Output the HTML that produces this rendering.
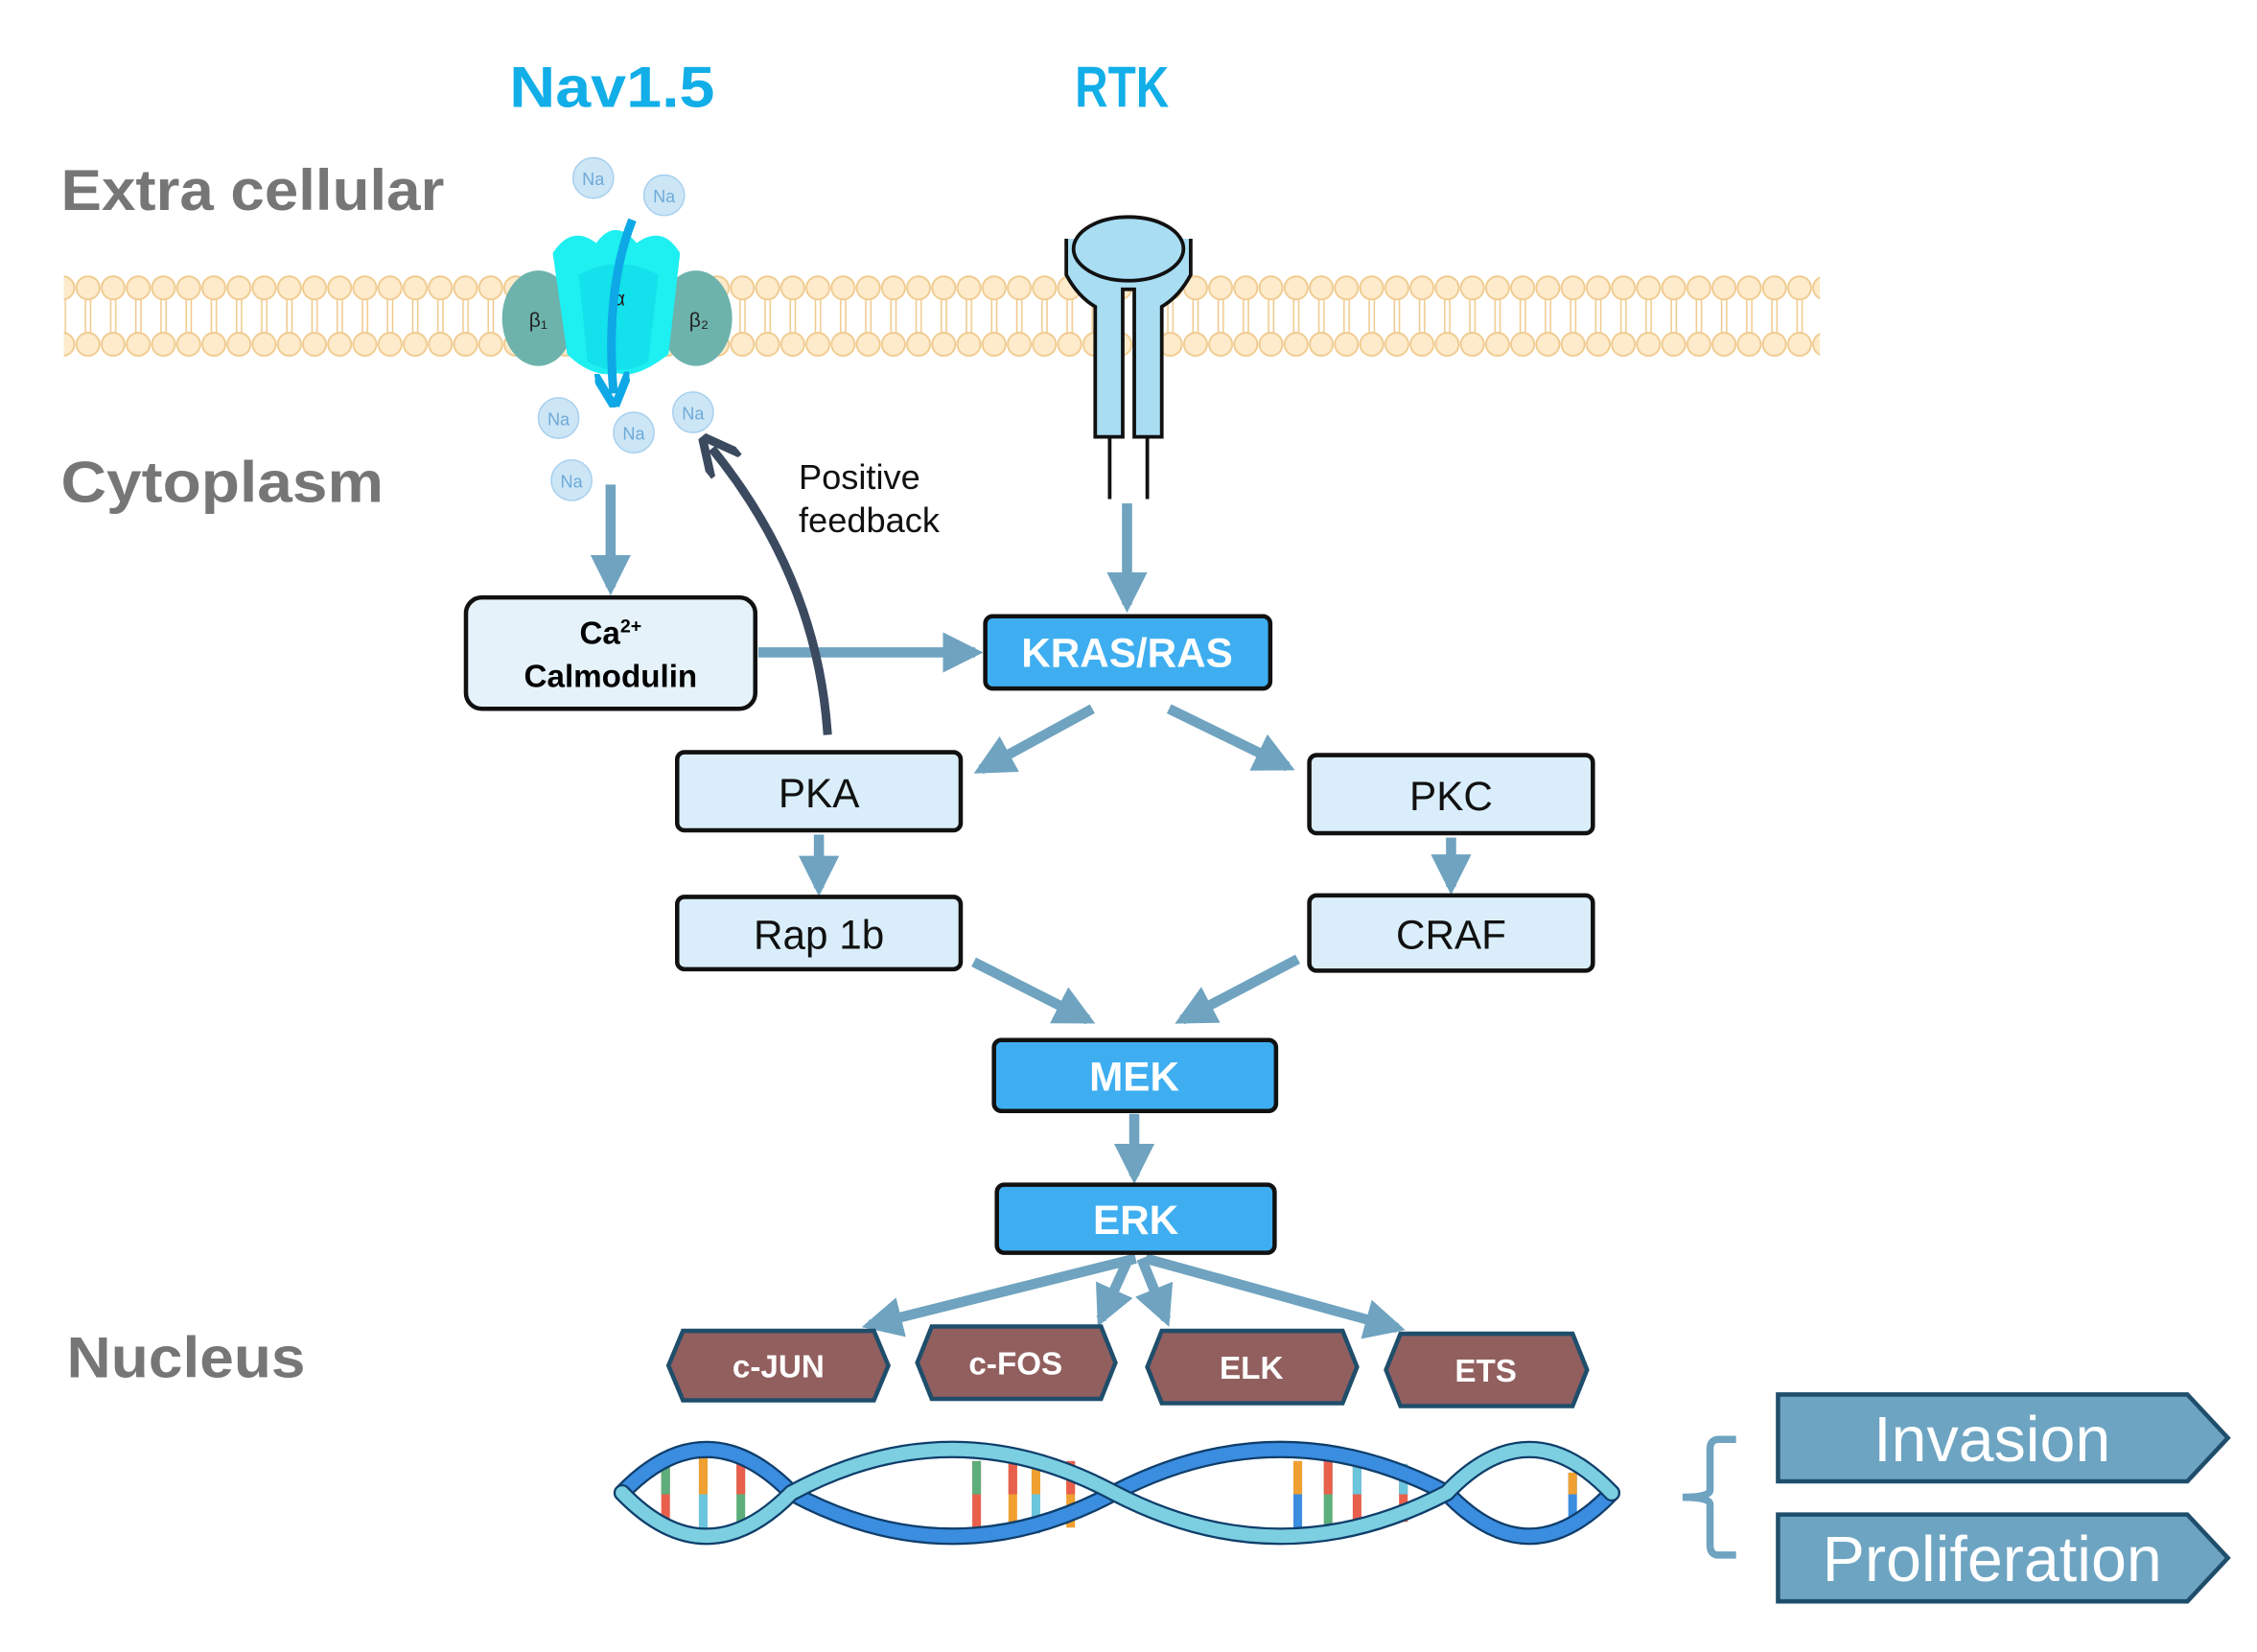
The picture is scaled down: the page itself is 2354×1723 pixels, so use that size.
<!DOCTYPE html>
<html><head><meta charset="utf-8"><style>
html,body{margin:0;padding:0;background:#fff;}
svg{display:block;}
text{font-family:"Liberation Sans",sans-serif;}
</style></head><body>
<svg width="2354" height="1723" viewBox="0 0 1560 1142" xmlns="http://www.w3.org/2000/svg">
<defs>
<marker id="ah" viewBox="0 0 10 10" refX="8" refY="5" markerWidth="4" markerHeight="4" orient="auto"><path d="M0,0L10,5L0,10z" fill="#6FA3C0"/></marker>
<marker id="ahd" viewBox="0 0 10 10" refX="6" refY="5" markerWidth="4.5" markerHeight="4.5" orient="auto"><path d="M0,0L10,5L0,10" fill="none" stroke="#3C4A60" stroke-width="2.2"/></marker>
<marker id="ahb" viewBox="0 0 10 10" refX="6" refY="5" markerWidth="4" markerHeight="4" orient="auto"><path d="M0,0L10,5L0,10" fill="none" stroke="#0EA8E6" stroke-width="2.5"/></marker>
<pattern id="mem" x="52" y="0" width="17.4" height="300" patternUnits="userSpaceOnUse">
<circle cx="8.7" cy="199" r="8" fill="#FDEBCB" stroke="#F0C98C" stroke-width="1.2"/>
<circle cx="8.7" cy="238" r="8" fill="#FDEBCB" stroke="#F0C98C" stroke-width="1.2"/>
<path d="M7,207V230M10.5,207V230" stroke="#F0C98C" stroke-width="1"/>
</pattern>
</defs>

<!-- titles -->
<text x="352" y="74" font-size="40" font-weight="bold" fill="#12AEE8" textLength="142" lengthAdjust="spacingAndGlyphs">Nav1.5</text>
<text x="743" y="74" font-size="40" font-weight="bold" fill="#12AEE8" textLength="65" lengthAdjust="spacingAndGlyphs">RTK</text>
<text x="42" y="145" font-size="40" font-weight="bold" fill="#767676" textLength="265" lengthAdjust="spacingAndGlyphs">Extra cellular</text>
<text x="42" y="347" font-size="40" font-weight="bold" fill="#767676" textLength="223" lengthAdjust="spacingAndGlyphs">Cytoplasm</text>
<text x="46" y="952" font-size="40" font-weight="bold" fill="#767676" textLength="165" lengthAdjust="spacingAndGlyphs">Nucleus</text>

<!-- membrane -->
<rect x="44" y="188" width="1214" height="60" fill="url(#mem)"/>

<!-- Nav channel -->
<ellipse cx="372" cy="220" rx="25" ry="33" fill="#6DB3AC"/>
<ellipse cx="481" cy="220" rx="25" ry="33" fill="#6DB3AC"/>
<path d="M382,175 Q395,155 412,168 Q425,150 440,168 Q458,155 470,175 L462,245 Q440,262 427,258 Q410,262 392,245 Z" fill="#1EEFF0"/>
<path d="M400,190 Q427,175 455,190 L448,250 Q427,262 406,250 Z" fill="#10DDEA" opacity="0.8"/>
<text x="372" y="226" font-size="14" font-family="Liberation Serif" fill="#222" text-anchor="middle">β₁</text>
<text x="483" y="226" font-size="14" font-family="Liberation Serif" fill="#222" text-anchor="middle">β₂</text>
<text x="428" y="211" font-size="14" font-family="Liberation Serif" fill="#222" text-anchor="middle">α</text>
<path d="M437,152 Q418,200 424,272" fill="none" stroke="#0EA8E6" stroke-width="6" marker-end="url(#ahb)"/>

<!-- Na ions -->
<g font-size="12" fill="#6FAAD8" text-anchor="middle">
<circle cx="410" cy="123" r="14" fill="#CCE6F6" stroke="#A8D0EE"/><text x="410" y="128">Na</text>
<circle cx="459" cy="135" r="14" fill="#CCE6F6" stroke="#A8D0EE"/><text x="459" y="140">Na</text>
<circle cx="386" cy="289" r="14" fill="#CCE6F6" stroke="#A8D0EE"/><text x="386" y="294">Na</text>
<circle cx="438" cy="299" r="14" fill="#CCE6F6" stroke="#A8D0EE"/><text x="438" y="304">Na</text>
<circle cx="479" cy="285" r="14" fill="#CCE6F6" stroke="#A8D0EE"/><text x="479" y="290">Na</text>
<circle cx="395" cy="332" r="14" fill="#CCE6F6" stroke="#A8D0EE"/><text x="395" y="337">Na</text>
</g>

<!-- RTK receptor -->
<path d="M737,165 L737,190 Q745,205 757,212 L757,302 L776,302 L776,200 L784,200 L784,302 L803,302 L803,212 Q815,205 823,190 L823,165" fill="#A8DDF2" stroke="#111" stroke-width="2.5"/>
<ellipse cx="780" cy="172" rx="38" ry="22" fill="#A8DDF2" stroke="#111" stroke-width="2.5"/>
<path d="M767,302V345M793,302V345" stroke="#111" stroke-width="2.5"/>

<!-- arrows -->
<g stroke="#6FA3C0" stroke-width="7" fill="none" marker-end="url(#ah)">
<line x1="422" y1="335" x2="422" y2="406"/>
<line x1="779" y1="348" x2="779" y2="418"/>
<line x1="524" y1="451" x2="674" y2="451"/>
<line x1="755" y1="490" x2="678" y2="532"/>
<line x1="808" y1="490" x2="890" y2="530"/>
<line x1="566" y1="577" x2="566" y2="614"/>
<line x1="1003" y1="579" x2="1003" y2="613"/>
<line x1="673" y1="665" x2="752" y2="705"/>
<line x1="897" y1="663" x2="817" y2="705"/>
<line x1="784" y1="770" x2="784" y2="813"/>
<line x1="785" y1="870" x2="601" y2="916"/>
<line x1="780" y1="870" x2="761" y2="912"/>
<line x1="789" y1="870" x2="806" y2="912"/>
<line x1="792" y1="870" x2="966" y2="918"/>
</g>

<!-- positive feedback -->
<path d="M572,508 Q565,400 492,310" fill="none" stroke="#3C4A60" stroke-width="6" marker-end="url(#ahd)"/>
<text x="552" y="338" font-size="24" fill="#111">Positive</text>
<text x="552" y="368" font-size="24" fill="#111">feedback</text>

<!-- boxes -->
<rect x="322" y="413" width="200" height="77" rx="11" fill="#E6F2FA" stroke="#111" stroke-width="3"/>
<text x="422" y="445" font-size="22" font-weight="bold" text-anchor="middle">Ca<tspan font-size="13" dy="-8">2+</tspan></text>
<text x="422" y="475" font-size="22" font-weight="bold" text-anchor="middle">Calmodulin</text>

<rect x="681" y="426" width="197" height="50" rx="5" fill="#3EAEF0" stroke="#111" stroke-width="3"/>
<text x="779" y="461" font-size="28" font-weight="bold" fill="#fff" text-anchor="middle">KRAS/RAS</text>

<g fill="#D9EEFA" stroke="#111" stroke-width="3">
<rect x="468" y="520" width="196" height="54" rx="5"/>
<rect x="905" y="522" width="196" height="54" rx="5"/>
<rect x="468" y="620" width="196" height="50" rx="5"/>
<rect x="905" y="619" width="196" height="52" rx="5"/>
</g>
<g font-size="28" text-anchor="middle" fill="#111">
<text x="566" y="558">PKA</text>
<text x="1003" y="560">PKC</text>
<text x="566" y="656">Rap 1b</text>
<text x="1003" y="656">CRAF</text>
</g>

<rect x="687" y="719" width="195" height="49" rx="5" fill="#3EAEF0" stroke="#111" stroke-width="3"/>
<text x="784" y="754" font-size="28" font-weight="bold" fill="#fff" text-anchor="middle">MEK</text>
<rect x="689" y="819" width="192" height="47" rx="5" fill="#3EAEF0" stroke="#111" stroke-width="3"/>
<text x="785" y="853" font-size="28" font-weight="bold" fill="#fff" text-anchor="middle">ERK</text>

<!-- octagons -->
<g fill="#925F5F" stroke="#1F4E6B" stroke-width="3">
<path d="M472,920H604L614,944L604,968H472L462,944Z"/>
<path d="M644,917H761L771,942L761,967H644L634,942Z"/>
<path d="M803,920H928L938,945L928,970H803L793,945Z"/>
<path d="M968,922H1087L1097,947L1087,972H968L958,947Z"/>
</g>
<g font-size="22" font-weight="bold" fill="#fff" text-anchor="middle">
<text x="538" y="952">c-JUN</text>
<text x="702" y="950">c-FOS</text>
<text x="865" y="953">ELK</text>
<text x="1027" y="955">ETS</text>
</g>

<!-- DNA rungs -->
<g stroke-width="6">
<path d="M460,1012V1055" stroke="#E8604C"/><path d="M460,1012V1033" stroke="#5DAE7A"/>
<path d="M486,1005V1060" stroke="#6BC5DC"/><path d="M486,1005V1033" stroke="#F0A030"/>
<path d="M512,1010V1056" stroke="#5DAE7A"/><path d="M512,1010V1033" stroke="#E8604C"/>
<path d="M675,1010V1058" stroke="#E8604C"/><path d="M675,1010V1033" stroke="#5DAE7A"/>
<path d="M700,1005V1060" stroke="#F0A030"/><path d="M700,1005V1033" stroke="#E8604C"/>
<path d="M716,1005V1060" stroke="#6BC5DC"/><path d="M716,1005V1033" stroke="#F0A030"/>
<path d="M740,1010V1056" stroke="#F0A030"/><path d="M740,1010V1033" stroke="#E8604C"/>
<path d="M897,1010V1058" stroke="#3B8DE0"/><path d="M897,1010V1033" stroke="#F0A030"/>
<path d="M918,1005V1060" stroke="#5DAE7A"/><path d="M918,1005V1033" stroke="#E8604C"/>
<path d="M938,1005V1060" stroke="#E8604C"/><path d="M938,1005V1033" stroke="#6BC5DC"/>
<path d="M970,1012V1052" stroke="#E8604C"/><path d="M970,1012V1033" stroke="#6BC5DC"/>
<path d="M1087,1018V1052" stroke="#3B8DE0"/><path d="M1087,1018V1033" stroke="#F0A030"/>
</g>
<g fill="none" stroke-linecap="round">
<path d="M430,1032 Q488,972 547,1032 Q658,1092 770,1032 Q885,972 1000,1032 Q1057,1092 1114,1032" stroke="#0F3E6B" stroke-width="12"/>
<path d="M430,1032 Q488,972 547,1032 Q658,1092 770,1032 Q885,972 1000,1032 Q1057,1092 1114,1032" stroke="#3B8DE0" stroke-width="9"/>
<path d="M430,1032 Q488,1092 547,1032 Q658,972 770,1032 Q885,1092 1000,1032 Q1057,972 1114,1032" stroke="#0F3E6B" stroke-width="12"/>
<path d="M430,1032 Q488,1092 547,1032 Q658,972 770,1032 Q885,1092 1000,1032 Q1057,972 1114,1032" stroke="#7CCFE0" stroke-width="9"/>
</g>

<!-- brace -->
<path d="M1200,995 H1188 Q1182,995 1182,1002 V1030 Q1182,1035 1163,1035 Q1182,1035 1182,1040 V1068 Q1182,1075 1188,1075 H1200" fill="none" stroke="#6FA3C0" stroke-width="5"/>

<!-- outcome arrows -->
<g fill="#6DA4C2" stroke="#1F4E6B" stroke-width="3">
<path d="M1229,964H1512L1540,994L1512,1024H1229Z"/>
<path d="M1229,1047H1512L1540,1077L1512,1107H1229Z"/>
</g>
<text x="1377" y="1010" font-size="44" fill="#fff" text-anchor="middle">Invasion</text>
<text x="1377" y="1093" font-size="44" fill="#fff" text-anchor="middle">Proliferation</text>
</svg>
</body></html>
